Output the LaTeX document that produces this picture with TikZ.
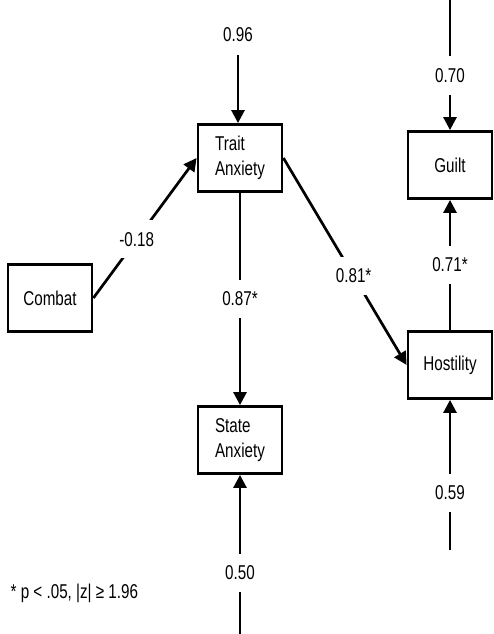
\documentclass[tikz,border=0pt]{standalone}
\usepackage{fontspec}
\setmainfont{Liberation Sans}[FakeStretch=0.76]
\usetikzlibrary{arrows.meta}

\begin{document}
\begin{tikzpicture}[x=1pt, y=-1pt, >={Triangle[length=13pt, width=13pt]}, line width=2.7pt,
    font=\fontsize{20}{25}\selectfont,
    var/.style={draw, line width=2.8pt, minimum width=84pt, minimum height=67pt, align=left},
    coef/.style={fill=white, inner xsep=4pt, inner ysep=12pt}]
    \useasboundingbox (0,0) rectangle (494,634);
    % variables
    \node[var] (combat) at (50,298) {Combat};
    \node[var] (trait) at (240,158) {Trait\\Anxiety};
    \node[var] (state) at (240,440) {State\\Anxiety};
    \node[var] (guilt) at (450,165) {Guilt};
    \node[var] (host) at (450,365) {Hostility};
    % error terms
    \node[coef] (e96) at (238,35) {0.96};
    \coordinate (eguilt) at (450,0);
    \coordinate (ehost) at (450,550);
    \coordinate (estate) at (240,634);
    % paths
    \draw[->] (e96) -- (e96 |- trait.north);
    \draw[->] (eguilt) -- node[coef, pos=0.58] {0.70} (guilt);
    \draw[->] (combat.east) -- node[coef, pos=0.42] {-0.18} (trait.west);
    \draw[->] (trait) -- node[coef] {0.87*} (state);
    \draw[->] (trait.east) -- node[coef, pos=0.57] {0.81*} (host.west);
    \draw[->] (host) -- node[coef] {0.71*} (guilt);
    \draw[->] (ehost) -- node[coef, pos=0.38] {0.59} (host);
    \draw[->] (estate) -- node[coef, pos=0.385] {0.50} (state);
    % footnote
    \node[anchor=west] (note) at (6,593) {* p < .05, |z| ≥ 1.96};
\end{tikzpicture}
\end{document}
